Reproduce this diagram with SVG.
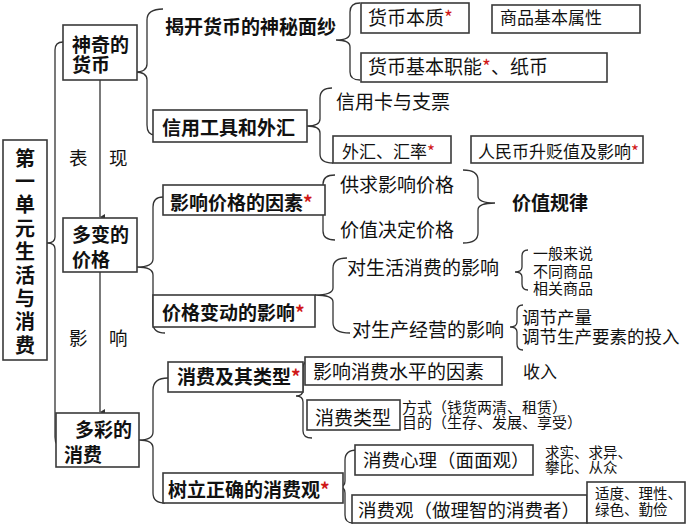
<svg xmlns="http://www.w3.org/2000/svg" width="700" height="525" viewBox="0 0 700 525">
<style>
text{font-family:"Noto Sans CJK SC","Noto Sans",sans-serif;fill:#111}
.b{font-weight:bold}
.box{fill:#fff;stroke:#3a3a3a;stroke-width:1.6}
.br{fill:none;stroke:#333;stroke-width:1.3}
.st{fill:#d01818}
.s19{font-size:19px}.s17{font-size:17px}.s15{font-size:15px}.s14{font-size:14.5px}.s18{font-size:18.5px}
</style>
<defs>
<marker id="ah" markerWidth="8" markerHeight="8" refX="4" refY="7" orient="auto-start-reverse" markerUnits="userSpaceOnUse">
<path d="M1,2 L4,7 L7,2 Z" fill="#333"/>
</marker>
</defs>
<rect width="700" height="525" fill="#fff"/>
<g id="connectors">
<path class="br" d="M63,42 Q55,42 55,50 L55,237 Q55,243 47,243 Q55,243 55,249 L55,437 Q55,447 63,447"/>
<line x1="100" y1="80" x2="100" y2="217" stroke="#333" stroke-width="1.3" marker-end="url(#ah)"/>
<line x1="100" y1="272" x2="100" y2="412" stroke="#333" stroke-width="1.3" marker-end="url(#ah)"/>
<path class="br" d="M163,9 Q147,9 147,20 L147,64 Q147,72 135,72 Q147,72 147,80 L147,125 Q147,135 155,135"/>
<path class="br" d="M360,3 Q350,3 350,12 L350,33 Q350,40 336,40 Q350,40 350,47 L350,72 Q350,80 360,80"/>
<path class="br" d="M332,88 Q320,88 320,98 L320,119 Q320,126 307,126 Q320,126 320,133 L320,154 Q320,163 333,163"/>
<path class="br" d="M163,197 Q153,197 153,207 L153,259 Q153,267 137,267 Q153,267 153,275 L153,323 Q153,333 165,333"/>
<path class="br" d="M335,175 Q323,175 323,184 L323,197 Q323,203 316,203 Q323,203 323,209 L323,231 Q323,240 335,240"/>
<path class="br" d="M463,170 Q478,170 478,180 L478,196 Q478,203 495,203 Q478,203 478,210 L478,233 Q478,243 463,243"/>
<path class="br" d="M347,258 Q333,258 333,268 L333,288 Q333,295 315,295 Q333,295 333,302 L333,323 Q333,333 350,333"/>
<path class="br" d="M528,250 Q522,250 522,256 L522,267 Q522,272 515,272 Q522,272 522,277 L522,284 Q522,290 528,290"/>
<path class="br" d="M523,305 Q517,305 517,311 L517,322 Q517,327 510,327 Q517,327 517,332 L517,344 Q517,350 523,350"/>
<path class="br" d="M168,378 Q153,378 153,390 L153,432 Q153,440 139,440 Q153,440 153,448 L153,493 Q153,503 165,503"/>
<path class="br" d="M310,361 Q303,361 303,368 L303,390 Q303,396 296,396 Q303,396 303,402 L303,431 Q303,438 312,438"/>
<path class="br" d="M357,450 Q345,450 345,460 L345,481 Q345,487 339,487 Q345,487 345,493 L345,515 Q345,523 353,523"/>
</g>
<g id="n-title">
<rect class="box" x="3" y="140" width="44" height="220"/>
<text class="b" font-size="20" x="25" y="148" writing-mode="vertical-rl" letter-spacing="3.4">第一单元生活与消费</text>
</g>
<g id="n-money">
<rect class="box" x="63" y="25" width="74" height="55"/>
<text class="b s19" x="72" y="52">神奇的<tspan x="72" dy="20">货币</tspan></text>
</g>
<g id="n-price">
<rect class="box" x="63" y="218" width="74" height="54"/>
<text class="b s19" x="72" y="242">多变的<tspan x="72" dy="25">价格</tspan></text>
</g>
<g id="n-consume">
<rect class="box" x="56" y="413" width="83" height="54"/>
<text class="b s19" x="75" y="437">多彩的<tspan x="64" dy="25">消费</tspan></text>
</g>
<g id="lbl-biaoxian">
<text class="s18" x="69" y="165">表</text>
<text class="s18" x="109" y="165">现</text>
</g>
<g id="lbl-yingxiang">
<text class="s18" x="69" y="345">影</text>
<text class="s18" x="109" y="345">响</text>
</g>
<g id="n-jiekai"><text class="b s19" x="165" y="34">揭开货币的神秘面纱</text></g>
<g id="n-xinyong">
<rect class="box" x="153" y="110" width="154" height="32"/>
<text class="b s19" x="162" y="135">信用工具和外汇</text>
</g>
<g id="n-benzhi">
<rect class="box" x="361" y="3" width="108" height="30"/>
<text class="s19" x="368" y="25">货币本质<tspan class="st">*</tspan></text>
</g>
<g id="n-shuxing">
<rect class="box" x="492" y="5" width="148" height="28"/>
<text class="s17" x="500" y="24">商品基本属性</text>
</g>
<g id="n-zhineng">
<rect class="box" x="361" y="53" width="246" height="29"/>
<text class="s19" x="368" y="74">货币基本职能<tspan class="st">*</tspan>、纸币</text>
</g>
<g id="n-xinyongka"><text class="s19" x="336" y="109">信用卡与支票</text></g>
<g id="n-waihui">
<rect class="box" x="333" y="136" width="118" height="27"/>
<text class="s17" x="342" y="158">外汇、汇率<tspan class="st">*</tspan></text>
</g>
<g id="n-rmb">
<rect class="box" x="471" y="136" width="172" height="27"/>
<text class="s17" x="478" y="158">人民币升贬值及影响<tspan class="st">*</tspan></text>
</g>
<g id="n-yinsu">
<rect class="box" x="163" y="185" width="162" height="30"/>
<text class="b s19" x="170" y="210">影响价格的因素<tspan class="st">*</tspan></text>
</g>
<g id="n-gongqiu"><text class="s19" x="340" y="192">供求影响价格</text></g>
<g id="n-jiazhi"><text class="s19" x="340" y="237">价值决定价格</text></g>
<g id="n-guilv"><text class="b s19" x="512" y="210">价值规律</text></g>
<g id="n-biandong">
<rect class="box" x="153" y="295" width="162" height="32"/>
<text class="b s19" x="162" y="320">价格变动的影响<tspan class="st">*</tspan></text>
</g>
<g id="n-shenghuo"><text class="s19" x="347" y="275">对生活消费的影响</text></g>
<g id="n-shengchan"><text class="s19" x="352" y="337">对生产经营的影响</text></g>
<g id="n-yiban">
<text class="s15" x="533" y="259">一般来说<tspan x="533" dy="18">不同商品</tspan><tspan x="533" dy="17">相关商品</tspan></text>
</g>
<g id="n-tiaojie">
<text font-size="17.5" x="522" y="324">调节产量<tspan x="522" dy="19">调节生产要素的投入</tspan></text>
</g>
<g id="n-leixing-main">
<rect class="box" x="168" y="362" width="135" height="30"/>
<text class="b s19" x="177" y="384">消费及其类型<tspan class="st">*</tspan></text>
</g>
<g id="n-shuli">
<rect class="box" x="163" y="473" width="180" height="30"/>
<text class="b s19" x="168" y="497">树立正确的消费观<tspan class="st">*</tspan></text>
</g>
<g id="n-shuiping">
<rect class="box" x="305" y="357" width="197" height="28"/>
<text class="s19" x="313" y="379">影响消费水平的因素</text>
</g>
<g id="n-shouru"><text class="s17" x="523" y="378">收入</text></g>
<g id="n-leixing">
<rect class="box" x="307" y="400" width="93" height="30"/>
<text class="s19" x="315" y="425">消费类型</text>
</g>
<g id="n-fangshi">
<text class="s15" x="402" y="413">方式（钱货两清、租赁）<tspan x="402" dy="15">目的（生存、发展、享受）</tspan></text>
</g>
<g id="n-xinli">
<rect class="box" x="355" y="445" width="178" height="30"/>
<text class="s18" x="363" y="467">消费心理（面面观）</text>
</g>
<g id="n-qiushi">
<text class="s14" x="545" y="458">求实、求异、<tspan x="545" dy="15">攀比、从众</tspan></text>
</g>
<g id="n-xiaofeiguan">
<rect class="box" x="352" y="495" width="235" height="28"/>
<text class="s18" x="358" y="517">消费观（做理智的消费者）</text>
</g>
<g id="n-shidu">
<rect class="box" x="587" y="482" width="98" height="41"/>
<text class="s14" x="595" y="499">适度、理性、<tspan x="595" dy="16">绿色、勤俭</tspan></text>
</g>
</svg>
